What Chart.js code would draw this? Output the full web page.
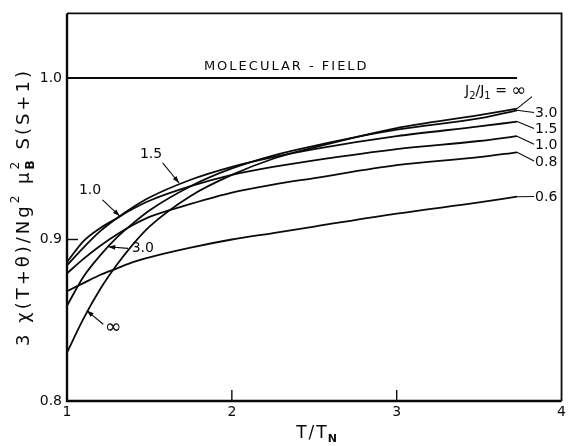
<!DOCTYPE html>
<html><head><meta charset="utf-8">
<script src="https://cdn.jsdelivr.net/npm/chart.js@4/dist/chart.umd.min.js"></script>
<style>html,body{margin:0;padding:0;background:#fff}</style>
</head><body>
<canvas id="c" width="569" height="446" style="width:569px;height:446px"></canvas>
<script>
// ---- data ----
const T = [1, 1.1, 1.2, 1.3, 1.4, 1.5, 1.75, 2, 2.25, 2.5, 3, 3.5, 3.73];
const r06  = [0.868, 0.873, 0.878, 0.882, 0.886, 0.889, 0.895, 0.900, 0.904, 0.908, 0.916, 0.923, 0.9265];
const r08  = [0.879, 0.888, 0.896, 0.903, 0.909, 0.914, 0.922, 0.929, 0.934, 0.938, 0.946, 0.951, 0.954];
const r10  = [0.886, 0.899, 0.907, 0.913, 0.919, 0.924, 0.933, 0.940, 0.945, 0.949, 0.956, 0.961, 0.964];
const r15  = [0.884, 0.895, 0.905, 0.913, 0.920, 0.926, 0.937, 0.945, 0.951, 0.956, 0.964, 0.970, 0.973];
const r30  = [0.859, 0.877, 0.890, 0.901, 0.910, 0.918, 0.933, 0.944, 0.952, 0.958, 0.968, 0.975, 0.980];
const rInf = [0.830, 0.851, 0.869, 0.884, 0.897, 0.908, 0.927, 0.940, 0.950, 0.957, 0.969, 0.977, 0.981];
const molecularT = [1, 3.73];
const molecularV = [1.0, 1.0];
const xTicks = [1, 2, 3, 4];
const yTicks = [0.8, 0.9, 1.0];
const seriesNames = ['0.6', '0.8', '1.0', '1.5', '3.0', '\u221e'];
// right-hand label positions (value units) for each series, same order
const rightLabelV = [0.9266, 0.9486, 0.959, 0.9688, 0.9786, 0.9885];
// left arrow annotations: text, text position (T,v), arrow tip (T,v), arrow start (T,v)
const leftNotes = [
  {text:'1.5', tx:1.51, tv:0.9525, ax:1.68, av:0.935, sx:1.58, sv:0.9475},
  {text:'1.0', tx:1.14, tv:0.9305, ax:1.32, av:0.9145, sx:1.215, sv:0.9245},
  {text:'3.0', tx:1.46, tv:0.8945, ax:1.25, av:0.8955, sx:1.37, sv:0.8945},
  {text:'\u221e', tx:1.28, tv:0.8455, ax:1.12, av:0.856, sx:1.22, sv:0.8475}
];

const series = [r06, r08, r10, r15, r30, rInf];
const INK = '#0a0a0a';
const datasets = series.map((s, k) => ({
  label: seriesNames[k],
  data: T.map((t, i) => ({x: t, y: s[i]})),
  borderColor: INK, borderWidth: 1.8, pointRadius: 0,
  cubicInterpolationMode: 'monotone', fill: false
}));
datasets.push({
  label: 'molecular', data: molecularT.map((t, i) => ({x: t, y: molecularV[i]})),
  borderColor: INK, borderWidth: 1.8, pointRadius: 0, fill: false
});

const FONT = '"DejaVu Sans", "Liberation Sans", sans-serif';

const deco = {
  id: 'deco',
  afterDraw(chart) {
    const {ctx, chartArea: a, scales: {x, y}} = chart;
    ctx.save();
    ctx.strokeStyle = INK; ctx.fillStyle = INK; ctx.lineCap = 'butt';
    // frame
    ctx.lineWidth = 2.4;
    ctx.beginPath(); ctx.moveTo(a.left, a.top); ctx.lineTo(a.left, a.bottom); ctx.lineTo(a.right, a.bottom); ctx.stroke();
    ctx.lineWidth = 1.8;
    ctx.beginPath(); ctx.moveTo(a.left, a.top); ctx.lineTo(a.right, a.top); ctx.lineTo(a.right, a.bottom); ctx.stroke();
    // inward ticks
    ctx.lineWidth = 1.4;
    xTicks.slice(1, -1).forEach(v => { const px = x.getPixelForValue(v); ctx.beginPath(); ctx.moveTo(px, a.bottom); ctx.lineTo(px, a.bottom - 11); ctx.stroke(); });
    yTicks.slice(1).forEach(v => { const py = y.getPixelForValue(v); ctx.beginPath(); ctx.moveTo(a.left, py); ctx.lineTo(a.left + 11, py); ctx.stroke(); });

    // molecular field label
    ctx.font = '13px ' + FONT; ctx.textAlign = 'center'; ctx.textBaseline = 'middle';
    ctx.letterSpacing = '2px';
    ctx.fillText('MOLECULAR - FIELD', x.getPixelForValue(2.33), y.getPixelForValue(1.0) - 11);
    ctx.letterSpacing = '0px';

    // right labels with leaders
    ctx.lineWidth = 1.1;
    ctx.textAlign = 'left';
    series.forEach((s, k) => {
      const ex = x.getPixelForValue(T[T.length - 1]), ey = y.getPixelForValue(s[s.length - 1]);
      const ly = y.getPixelForValue(rightLabelV[k]);
      const lx = k === series.length - 1 ? ex + 15 : ex + 17;
      ctx.beginPath(); ctx.moveTo(ex, ey); ctx.lineTo(lx, ly); ctx.stroke();
      if (k < series.length - 1) {
        ctx.font = '14px ' + FONT;
        ctx.fillText(seriesNames[k], lx + 1, ly + 1);
      }
    });
    // J2/J1 = ∞ label
    {
      const ly = y.getPixelForValue(rightLabelV[5]) - 5;
      let px = x.getPixelForValue(T[T.length - 1]) - 52;
      const parts = [['J', 0, 14], ['2', 5, 10], ['/J', 0, 14], ['1', 5, 10], [' = ', 0, 14], ['\u221e', 0, 18]];
      parts.forEach(([t, dy, fs]) => { ctx.font = fs + 'px ' + FONT; ctx.fillText(t, px, ly + dy); px += ctx.measureText(t).width; });
    }

    // left arrows
    ctx.textAlign = 'center';
    leftNotes.forEach(n => {
      const tx = x.getPixelForValue(n.tx), ty = y.getPixelForValue(n.tv);
      const sx = x.getPixelForValue(n.sx), sy = y.getPixelForValue(n.sv);
      const ax = x.getPixelForValue(n.ax), ay = y.getPixelForValue(n.av);
      ctx.font = (n.text === '\u221e' ? '20px ' : '14px ') + FONT;
      ctx.fillText(n.text, tx, ty);
      ctx.lineWidth = 1.1;
      ctx.beginPath(); ctx.moveTo(sx, sy); ctx.lineTo(ax, ay); ctx.stroke();
      const ang = Math.atan2(ay - sy, ax - sx), L = 7, W = 2.4;
      ctx.beginPath();
      ctx.moveTo(ax, ay);
      ctx.lineTo(ax - L * Math.cos(ang) + W * Math.sin(ang), ay - L * Math.sin(ang) - W * Math.cos(ang));
      ctx.lineTo(ax - L * Math.cos(ang) - W * Math.sin(ang), ay - L * Math.sin(ang) + W * Math.cos(ang));
      ctx.closePath(); ctx.fill();
    });

    // x title T/T_N
    {
      ctx.textAlign = 'left'; ctx.textBaseline = 'alphabetic';
      const cx = x.getPixelForValue(2.52), by = 438;
      ctx.letterSpacing = '2px';
      ctx.font = '17px ' + FONT; const w1 = ctx.measureText('T/T').width;
      ctx.font = '11px ' + FONT; const w2 = ctx.measureText('N').width;
      let px = cx - (w1 + w2) / 2;
      ctx.font = '17px ' + FONT; ctx.fillText('T/T', px, by);
      ctx.font = 'bold 11px ' + FONT; ctx.fillText('N', px + w1 - 1, by + 4);
      ctx.letterSpacing = '0px';
    }
    // y title
    {
      ctx.save();
      ctx.translate(24, 207);
      ctx.rotate(-Math.PI / 2);
      ctx.textAlign = 'left'; ctx.textBaseline = 'middle';
      ctx.letterSpacing = '3px';
      const big = '18px ' + FONT, small = '12px ' + FONT;
      const segs = [
        {t: '3 \u03c7(T+\u03b8)/Ng', f: big, dy: 0},
        {t: '2', f: small, dy: -8},
        {t: ' \u03bc', f: big, dy: 0},
        {t: '2', f: small, dy: -8, stackSub: 'B'},
        {t: ' S(S+1)', f: big, dy: 0}
      ];
      let total = 0;
      segs.forEach(s => { ctx.font = s.f; s.w = ctx.measureText(s.t).width; if (s.stackSub) { s.w = Math.max(s.w, ctx.measureText(s.stackSub).width); } total += s.w; });
      let px = -total / 2;
      segs.forEach(s => {
        ctx.font = s.f; ctx.fillText(s.t, px, s.dy);
        if (s.stackSub) { ctx.font = 'bold ' + s.f; ctx.fillText(s.stackSub, px, 7); }
        px += s.w;
      });
      ctx.restore();
    }
    ctx.restore();
  }
};

new Chart(document.getElementById('c'), {
  type: 'line',
  data: {datasets},
  options: {
    responsive: false, animation: false, devicePixelRatio: 1,
    layout: {padding: {left: 0, right: 4, top: 8, bottom: 0}},
    plugins: {legend: {display: false}, tooltip: {enabled: false}},
    scales: {
      x: {
        type: 'linear', min: 1, max: 4,
        grid: {display: false, drawTicks: false}, border: {display: false},
        afterBuildTicks: s => { s.ticks = xTicks.map(v => ({value: v})); },
        afterFit: s => { s.height = 45; },
        ticks: {color: INK, font: {family: FONT, size: 14}, padding: 3, maxRotation: 0, autoSkip: false,
          callback: v => String(v)}
      },
      y: {
        type: 'linear', min: 0.8, max: 1.04,
        grid: {display: false, drawTicks: false}, border: {display: false},
        afterBuildTicks: s => { s.ticks = yTicks.map(v => ({value: v})); },
        afterFit: s => { s.width = 67; },
        ticks: {color: INK, font: {family: FONT, size: 14}, padding: 5, autoSkip: false,
          callback: v => v.toFixed(1)}
      }
    }
  },
  plugins: [deco]
});
</script>
</body></html>
